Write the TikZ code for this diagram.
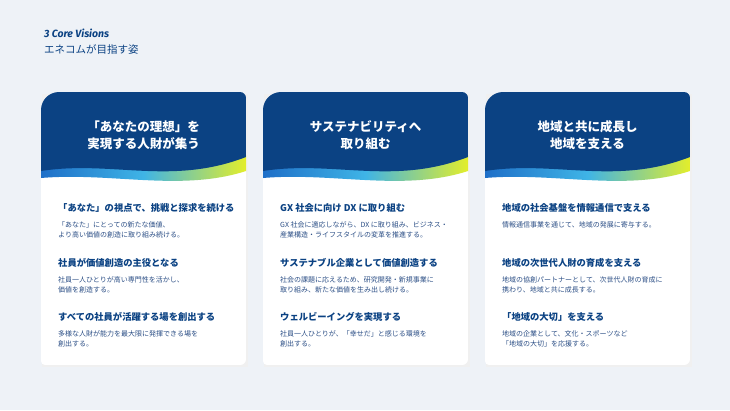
\documentclass[tikz,border=0pt]{standalone}
\usepackage{fontspec}
\setmainfont{Noto Sans CJK JP}
\newfontfamily\latinsans{Fira Sans}
\usetikzlibrary{positioning}
\definecolor{bg}{HTML}{EEF2F7}
\definecolor{navy}{HTML}{0B4283}
\definecolor{midblue}{HTML}{1E6FC8}
\definecolor{skyblue}{HTML}{3FB4E6}
\definecolor{lime}{HTML}{E3EE2A}
\definecolor{bodyblue}{HTML}{2C4F86}
\tikzset{
  cardtitle/.style={text=white, font=\fontsize{12.5}{17}\selectfont\bfseries, align=center},
  itemhead/.style={text=navy, font=\fontsize{9.3}{11}\selectfont\bfseries, anchor=west, inner sep=0pt},
  itembody/.style={text=bodyblue, font=\fontsize{7}{10.6}\selectfont, anchor=north west, align=left, inner sep=0pt},
}
\begin{document}
\begin{tikzpicture}[x=1pt,y=-1pt]
\fill[bg] (0,0) rectangle (730,410);
\useasboundingbox (0,0) rectangle (730,410);
% header
\node[text=navy, font=\latinsans\fontsize{10.5}{12}\selectfont\itshape\bfseries, anchor=west, inner sep=0pt] (vis) at (44,33) {3 Core Visions};
\node[text=navy, font=\fontsize{10.5}{12}\selectfont, anchor=west, inner sep=0pt] (ene) at (44,49) {エネコムが目指す姿};
% cards
\foreach \cx in {41,263,485}{
  \fill[black!6] (\cx+1,94) rectangle (\cx+207,367);
  \begin{scope}
    \clip (\cx,361) -- (\cx,110) to[out=90,in=180] (\cx+18,92) -- (\cx+199,92)
      to[out=0,in=90] (\cx+205,98) -- (\cx+205,359) to[out=-90,in=0] (\cx+199,365)
      -- (\cx+4,365) to[out=180,in=-90] cycle;
    \fill[white] (\cx,92) rectangle (\cx+205,365);
    \shade[left color=midblue, right color=lime, middle color=skyblue]
      (\cx,168) .. controls (\cx+70,160) and (\cx+120,185) .. (\cx+205,155)
      -- (\cx+205,171) .. controls (\cx+140,192) and (\cx+70,172) .. (\cx,178) -- cycle;
    \fill[navy] (\cx,92) -- (\cx+205,92) -- (\cx+205,157)
      .. controls (\cx+130,186) and (\cx+70,160) .. (\cx,171) -- cycle;
  \end{scope}
}
% card 1
\node[cardtitle] (t1) at (143.5,135) {「あなたの理想」を\\実現する人財が集う};
\node[itemhead] (h11) at (58,208) {「あなた」の視点で、挑戦と探求を続ける};
\node[itembody] (b11) at (58,221) {「あなた」にとっての新たな価値、\\より高い価値の創造に取り組み続ける。};
\node[itemhead] (h12) at (58,263) {社員が価値創造の主役となる};
\node[itembody] (b12) at (58,276) {社員一人ひとりが高い専門性を活かし、\\価値を創造する。};
\node[itemhead] (h13) at (58,317) {すべての社員が活躍する場を創出する};
\node[itembody] (b13) at (58,330) {多様な人財が能力を最大限に発揮できる場を\\創出する。};
% card 2
\node[cardtitle] (t2) at (365.5,135) {サステナビリティへ\\取り組む};
\node[itemhead] (h21) at (280,208) {GX 社会に向け DX に取り組む};
\node[itembody] (b21) at (280,221) {GX 社会に適応しながら、DX に取り組み、ビジネス・\\産業構造・ライフスタイルの変革を推進する。};
\node[itemhead] (h22) at (280,263) {サステナブル企業として価値創造する};
\node[itembody] (b22) at (280,276) {社会の課題に応えるため、研究開発・新規事業に\\取り組み、新たな価値を生み出し続ける。};
\node[itemhead] (h23) at (280,317) {ウェルビーイングを実現する};
\node[itembody] (b23) at (280,330) {社員一人ひとりが、「幸せだ」と感じる環境を\\創出する。};
% card 3
\node[cardtitle] (t3) at (587.5,135) {地域と共に成長し\\地域を支える};
\node[itemhead] (h31) at (502,208) {地域の社会基盤を情報通信で支える};
\node[itembody] (b31) at (502,221) {情報通信事業を通じて、地域の発展に寄与する。};
\node[itemhead] (h32) at (502,263) {地域の次世代人財の育成を支える};
\node[itembody] (b32) at (502,276) {地域の協創パートナーとして、次世代人財の育成に\\携わり、地域と共に成長する。};
\node[itemhead] (h33) at (502,317) {「地域の大切」を支える};
\node[itembody] (b33) at (502,330) {地域の企業として、文化・スポーツなど\\「地域の大切」を応援する。};
\end{tikzpicture}
\end{document}
